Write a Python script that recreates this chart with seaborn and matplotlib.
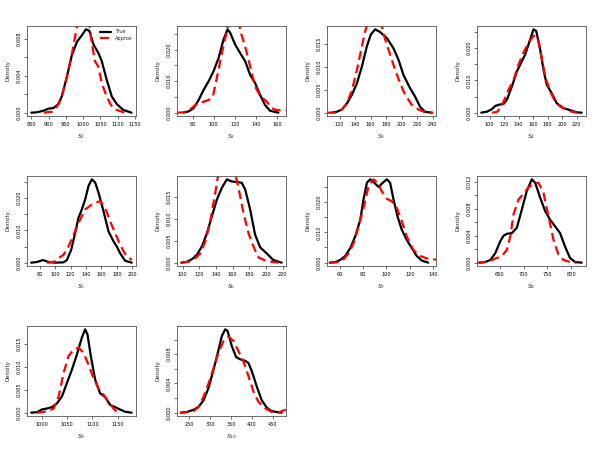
import numpy as np
import pandas as pd
import matplotlib
matplotlib.use("Agg")
import matplotlib.pyplot as plt
import seaborn as sns

sns.set_style("white")
plt.rcParams['font.family'] = ['DejaVu Sans']

# ---- data (x, density) ----
s1_true_x = [850, 866, 886, 900, 914, 929, 938, 953, 967, 982, 996, 1008, 1018, 1030, 1044, 1054, 1068, 1083, 1097, 1116, 1140]
s1_true_y = [0, 0.00004, 0.00022, 0.00044, 0.0005, 0.00095, 0.00175, 0.0039, 0.0062, 0.0077, 0.0084, 0.00906, 0.0089, 0.0074, 0.0065, 0.0056, 0.0036, 0.00175, 0.00095, 0.0003, 0]
s1_appr_x = [886, 910, 924, 938, 953, 967, 977, 986, 998, 1010, 1018, 1025, 1034, 1044, 1054, 1068, 1080, 1097, 1120]
s1_appr_y = [0, 0.0001, 0.00066, 0.00175, 0.0039, 0.0063, 0.0083, 0.0102, 0.0110, 0.0105, 0.0095, 0.0076, 0.0056, 0.0050, 0.0032, 0.00175, 0.00084, 0.0003, 0]

s2_true_x = [71.5, 76.2, 80.9, 85.7, 90.4, 95.1, 99.8, 104.6, 109.3, 113.1, 115.6, 120.3, 125, 129.8, 134.5, 139.2, 144, 148.7, 153.4, 161.3]
s2_true_y = [0, 0.0004, 0.0014, 0.004, 0.0072, 0.0099, 0.0131, 0.0173, 0.0232, 0.0264, 0.0253, 0.0216, 0.0189, 0.0163, 0.012, 0.0094, 0.0056, 0.0024, 0.0006, 0]
s2_appr_x = [65.2, 71.5, 77.8, 82.5, 88.8, 95.1, 99.2, 104.6, 107.7, 111.8, 114, 118.5, 123.5, 126, 129.8, 134.5, 139.2, 144, 150.2, 155, 159.7, 169]
s2_appr_y = [0, 0.0001, 0.0011, 0.0024, 0.0033, 0.004, 0.0051, 0.0136, 0.0189, 0.0248, 0.029, 0.032, 0.029, 0.025, 0.021, 0.0147, 0.0083, 0.0053, 0.0035, 0.0014, 0.0008, 0.0007]

s3_true_x = [110.1, 116.6, 123, 129.4, 135.9, 142.3, 148.7, 155.1, 160.3, 165.9, 172.3, 180.9, 189.4, 195.9, 202.3, 210.9, 217.3, 223.7, 230.1, 238.7]
s3_true_y = [0, 0.0002, 0.0007, 0.002, 0.0039, 0.0064, 0.01, 0.0144, 0.017, 0.0181, 0.0175, 0.0162, 0.014, 0.0115, 0.0082, 0.0053, 0.0035, 0.0013, 0.0002, 0]
s3_appr_x = [103.7, 114.4, 123, 129.4, 135.9, 142.3, 148.7, 153, 157, 165, 173, 178.7, 185.1, 191.6, 198, 204.4, 213, 221.6, 230, 240.7]
s3_appr_y = [0, 0, 0.0007, 0.002, 0.0049, 0.0093, 0.0144, 0.0177, 0.0198, 0.021, 0.0198, 0.0159, 0.0126, 0.0093, 0.0064, 0.0039, 0.0017, 0.0007, 0.0001, 0]

s4_true_x = [88.5, 96.3, 103.2, 107.8, 113.7, 119.2, 123.8, 130.7, 137.6, 144.4, 149, 155.9, 160.5, 164.2, 169.6, 174.2, 178.8, 185.6, 192.5, 201.7, 210.8, 220, 226.9]
s4_true_y = [0, 0.0003, 0.0011, 0.0021, 0.0025, 0.0027, 0.004, 0.0081, 0.0128, 0.0159, 0.018, 0.0227, 0.0258, 0.0253, 0.0196, 0.0133, 0.0086, 0.006, 0.0029, 0.0014, 0.0008, 0.0001, 0]
s4_appr_x = [103.2, 110, 114.7, 119.2, 126.1, 133, 139.8, 146.7, 153.6, 160.5, 164.2, 167.3, 171.9, 176.5, 183.4, 190.3, 197.1, 204, 213.2, 220]
s4_appr_y = [0, 0.0002, 0.0014, 0.0034, 0.0071, 0.0102, 0.0149, 0.0186, 0.0217, 0.0238, 0.0238, 0.0222, 0.0169, 0.0112, 0.0066, 0.0034, 0.0019, 0.0011, 0.0003, 0]

s5_true_x = [69.2, 76.6, 84.3, 91.6, 100.2, 111, 115.3, 120.9, 126, 130.3, 134.7, 139, 143.3, 147.6, 151.9, 156.2, 162.7, 169.1, 175.6, 179.9, 184.2, 190.6, 199.2]
s5_true_y = [0, 0.0002, 0.0008, 0.0002, 0, 0.0001, 0.0008, 0.004, 0.0092, 0.0139, 0.0165, 0.0196, 0.0238, 0.0258, 0.0248, 0.0217, 0.0159, 0.0097, 0.0066, 0.005, 0.0029, 0.0006, 0]
s5_appr_x = [89.4, 98, 104.5, 110.9, 117.4, 123.8, 130.3, 139, 147.6, 158.3, 164.8, 171.2, 177.7, 184.2, 190.6, 199.2]
s5_appr_y = [0, 0.0002, 0.0014, 0.0024, 0.005, 0.0086, 0.0123, 0.0165, 0.018, 0.0191, 0.017, 0.0128, 0.0092, 0.0055, 0.0027, 0.0008]

s6_true_x = [98.4, 105.2, 111.2, 117.1, 123.1, 129.1, 135.1, 141.1, 147.1, 153, 159, 165, 171, 175, 181, 186.9, 192.9, 200.9, 208.8, 218.8]
s6_true_y = [0, 0.0002, 0.0008, 0.0018, 0.0037, 0.0067, 0.0106, 0.0144, 0.0171, 0.019, 0.0185, 0.0184, 0.0182, 0.0167, 0.0121, 0.0064, 0.0035, 0.0021, 0.0006, 0]
s6_appr_x = [98.4, 107.2, 115.1, 121.1, 127.1, 133.1, 139.1, 143, 147, 152.5, 158, 163, 168.2, 173, 179, 184.9, 190.9, 198.9, 206.8, 214.8]
s6_appr_y = [0, 0.0002, 0.001, 0.0021, 0.0048, 0.0094, 0.0159, 0.0205, 0.0222, 0.023, 0.0225, 0.0205, 0.0159, 0.0113, 0.0067, 0.0037, 0.0012, 0.0005, 0.0002, 0]

s7_true_x = [51.5, 56.3, 60.6, 64.8, 69.1, 73.3, 77.6, 80.4, 83.3, 86.1, 89.5, 93.2, 96.9, 100.3, 103.1, 106, 109.4, 113.1, 117.3, 121.6, 125.8, 130.1, 135.7]
s7_true_y = [0, 0.0002, 0.0009, 0.0022, 0.0048, 0.0086, 0.0141, 0.0208, 0.0263, 0.0274, 0.0263, 0.0249, 0.0263, 0.0274, 0.0263, 0.0208, 0.0152, 0.0108, 0.0075, 0.0048, 0.0022, 0.0007, 0]
s7_appr_x = [51.5, 57.7, 63.4, 67.7, 71.9, 76.2, 80.4, 84.7, 88.9, 92.3, 96, 100.3, 104.5, 108.8, 113.1, 117.3, 123, 128.7, 134.3, 140, 142.3]
s7_appr_y = [0, 0.0001, 0.0011, 0.0031, 0.0064, 0.0119, 0.018, 0.0252, 0.0274, 0.0263, 0.0235, 0.021, 0.0202, 0.018, 0.0136, 0.0086, 0.0042, 0.0022, 0.0014, 0.0011, 0.001]

s8_true_x = [608.4, 620.1, 630.6, 641, 651.4, 658.3, 665.3, 675.7, 686.1, 696.5, 707, 717.4, 724.3, 734.7, 745.1, 755.5, 766, 776.4, 786.8, 797.2, 807.7, 821.6]
s8_true_y = [0, 0.0001, 0.0004, 0.0014, 0.0032, 0.004, 0.0043, 0.0044, 0.0052, 0.0079, 0.0107, 0.0124, 0.0119, 0.0097, 0.0077, 0.0064, 0.0054, 0.0044, 0.0024, 0.0007, 0.0001, 0]
s8_appr_x = [602.8, 616.7, 630.6, 644.5, 654.9, 665.3, 672.3, 679.2, 689.6, 700, 710.5, 720.9, 731.3, 741.7, 752.2, 762.6, 773, 783.4, 797.2, 811.1]
s8_appr_y = [0, 0.00005, 0.0003, 0.0007, 0.001, 0.0019, 0.0039, 0.0072, 0.0094, 0.0103, 0.0112, 0.0118, 0.0119, 0.0104, 0.0069, 0.0034, 0.0012, 0.0004, 0.0001, 0]

s9_true_x = [978.6, 990.1, 1000, 1009.9, 1019.7, 1029.6, 1039.5, 1049.3, 1059.2, 1069.1, 1079, 1085.5, 1090.1, 1096.7, 1105.3, 1115.1, 1125, 1134.9, 1144.7, 1154.6, 1164.5, 1177.6]
s9_true_y = [0, 0.0001, 0.0007, 0.0009, 0.0012, 0.002, 0.0035, 0.0064, 0.0093, 0.0126, 0.0163, 0.0181, 0.017, 0.0123, 0.0072, 0.0042, 0.0034, 0.0017, 0.0012, 0.0007, 0.0002, 0]
s9_appr_x = [990.1, 1000, 1013.2, 1023.1, 1033, 1042.8, 1052.7, 1062.6, 1072.4, 1082.3, 1092.2, 1102.1, 1111.9, 1121.8, 1131.7, 1141.6, 1148.1, 1154.6]
s9_appr_y = [0, 0.0001, 0.0004, 0.0009, 0.0035, 0.0086, 0.0123, 0.0137, 0.0141, 0.013, 0.0104, 0.0075, 0.0053, 0.0039, 0.0024, 0.0009, 0.0002, 0]

s10_true_x = [230.9, 244.4, 260.4, 272.3, 284.3, 296.2, 308.2, 320.1, 328.1, 336.1, 341.6, 352, 362.3, 371.9, 383.8, 391.8, 399.8, 411.7, 423.7, 435.6, 447.6, 471.5]
s10_true_y = [0, 0.0001, 0.0004, 0.0008, 0.0017, 0.0034, 0.0059, 0.0086, 0.0105, 0.0114, 0.0112, 0.0091, 0.0076, 0.0073, 0.0071, 0.0068, 0.0057, 0.0036, 0.0017, 0.0007, 0.0002, 0]
s10_appr_x = [226.9, 244.4, 260.4, 272.3, 284.3, 296.2, 308.2, 320.1, 332.1, 344, 356, 367.9, 379.9, 391.8, 403.8, 415.7, 431.7, 447.6, 463.5, 475.5, 481.9]
s10_appr_y = [0, 0.00005, 0.0002, 0.0008, 0.0022, 0.004, 0.0061, 0.0082, 0.0098, 0.0104, 0.0098, 0.0084, 0.007, 0.005, 0.0029, 0.0015, 0.0006, 0.0001, 0, 0.0003, 0.0004]

panel_names = ["1", "2", "3", "4", "5", "6", "7", "8", "9", "10"]
true_x = [s1_true_x, s2_true_x, s3_true_x, s4_true_x, s5_true_x, s6_true_x, s7_true_x, s8_true_x, s9_true_x, s10_true_x]
true_y = [s1_true_y, s2_true_y, s3_true_y, s4_true_y, s5_true_y, s6_true_y, s7_true_y, s8_true_y, s9_true_y, s10_true_y]
appr_x = [s1_appr_x, s2_appr_x, s3_appr_x, s4_appr_x, s5_appr_x, s6_appr_x, s7_appr_x, s8_appr_x, s9_appr_x, s10_appr_x]
appr_y = [s1_appr_y, s2_appr_y, s3_appr_y, s4_appr_y, s5_appr_y, s6_appr_y, s7_appr_y, s8_appr_y, s9_appr_y, s10_appr_y]

# axis settings: (xlim, xticks, yticks, labelled y ticks step)
xlims = [(837.5, 1153), (65.2, 168.5), (103.7, 244.3), (82.6, 232.8), (63.7, 204.7),
         (93.2, 224), (49.2, 142.3), (602.8, 830.6), (970.4, 1186.2), (220.5, 481.9)]
xticks = [np.arange(850, 1151, 50), np.arange(80, 161, 20), np.arange(120, 241, 20), np.arange(100, 221, 20),
          np.arange(80, 201, 20), np.arange(100, 221, 20), np.arange(60, 141, 20), np.arange(650, 801, 50),
          np.arange(1000, 1151, 50), np.arange(250, 451, 50)]
yticks = [np.arange(0, 0.0091, 0.002), np.arange(0, 0.0251, 0.005), np.arange(0, 0.0151, 0.005),
          np.arange(0, 0.0251, 0.005), np.arange(0, 0.0251, 0.005), np.arange(0, 0.0151, 0.005),
          np.arange(0, 0.0251, 0.005), np.arange(0, 0.0121, 0.002), np.arange(0, 0.0151, 0.005),
          np.arange(0, 0.0101, 0.002)]
ylabel_every = [2, 2, 1, 2, 2, 1, 2, 2, 1, 2]
ydec = [3, 3, 3, 3, 3, 3, 3, 3, 3, 3]

fig = plt.figure(figsize=(6, 4.5), dpi=100)
W, H = 600.0, 450.0
for i in range(10):
    r, c = divmod(i, 4)
    left = (27 + 150 * c) / W
    bottom = 1 - (116 + 150 * r) / H
    ax = fig.add_axes([left, bottom, 109 / W, 90 / H])
    tx, ty = np.array(true_x[i]), np.array(true_y[i])
    sns.lineplot(x=tx, y=ty, ax=ax, color="black", lw=1.6, label="True" if i == 0 else None,
                 estimator=None, sort=False)
    sns.lineplot(x=appr_x[i], y=appr_y[i], ax=ax, color="red", lw=1.6,
                 label="Approx" if i == 0 else None, estimator=None, sort=False)
    ax.lines[1].set_dashes([4, 2.2])
    ymax = max(true_y[i])
    ax.set_xlim(*xlims[i])
    ax.set_ylim(-0.04 * ymax, 1.04 * ymax)
    ax.set_xticks(xticks[i])
    ax.set_xticklabels([str(int(v)) for v in xticks[i]])
    ax.set_yticks(yticks[i])
    ax.set_yticklabels([f"{v:.3f}" if k % ylabel_every[i] == 0 else "" for k, v in enumerate(yticks[i])],
                       rotation=90, va="center")
    ax.tick_params(axis="both", labelsize=3.6, length=2, width=0.5, pad=2, colors="#333333",
                   labelcolor="black", direction="out", bottom=True, left=True)
    for sp in ax.spines.values():
        sp.set_linewidth(0.6)
        sp.set_color("#555555")
    ax.set_xlabel(f"$S_{{{panel_names[i]}}}$", fontsize=4.5, labelpad=4)
    ax.set_ylabel("Density", fontsize=4, labelpad=4)
    if i == 0:
        leg = ax.legend(loc="upper right", frameon=False, fontsize=3.6, handlelength=2.2,
                        borderaxespad=0.3, labelspacing=0.3)
    else:
        if ax.get_legend() is not None:
            ax.get_legend().remove()

fig.savefig("out.png", dpi=100)
